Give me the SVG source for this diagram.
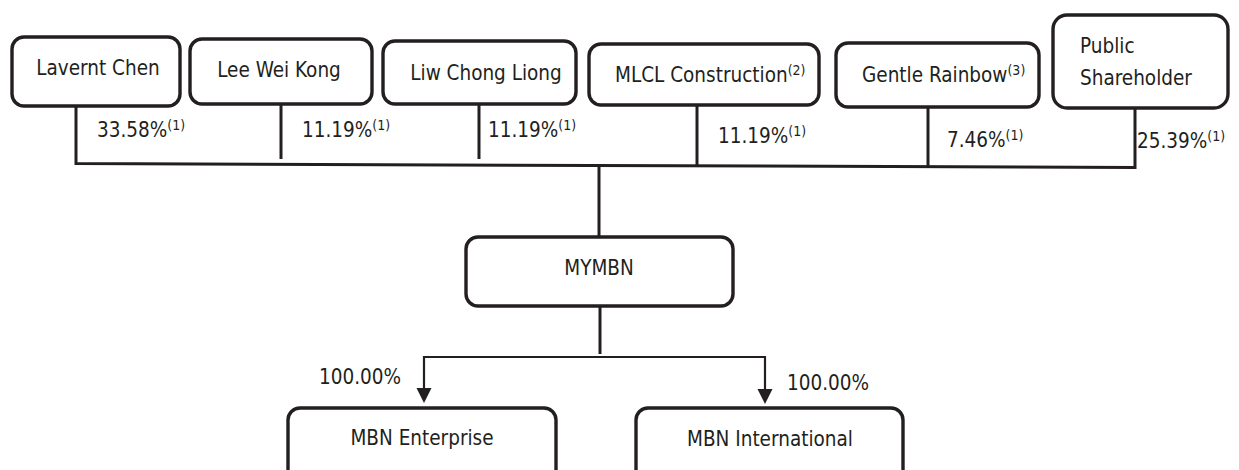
<svg xmlns="http://www.w3.org/2000/svg" width="1239" height="470" viewBox="0 0 1239 470">
<style>
.box{fill:#fff;stroke:#231f20;stroke-width:3.4}
.t{font-family:"DejaVu Sans Condensed","DejaVu Sans",sans-serif;font-size:20.5px;fill:#231f20}
.c{text-anchor:middle}
.sup{font-size:14px}
.ln{fill:none;stroke:#231f20;stroke-width:3}
.ln2{fill:none;stroke:#231f20;stroke-width:2.2}
</style>
<g id="connectors">
<path class="ln" d="M76,106 V163.5 L1135,167.5 V108"/>
<path class="ln" d="M281,104 V159"/>
<path class="ln" d="M479,104 V159"/>
<path class="ln" d="M697,105 V165.5"/>
<path class="ln" d="M928,107 V167"/>
<path class="ln" d="M599,166 V237"/>
<path class="ln" d="M600,306 V354"/>
<path class="ln2" d="M424,388 V357 H765 V389"/>
<path d="M416.5,388 L431.5,388 L424,403 z" fill="#231f20"/>
<path d="M757.5,389 L772.5,389 L765,404 z" fill="#231f20"/>
<text class="t" x="97" y="137">33.58%<tspan class="sup" dy="-7">(1)</tspan></text>
<text class="t" x="302" y="137">11.19%<tspan class="sup" dy="-7">(1)</tspan></text>
<text class="t" x="488" y="137">11.19%<tspan class="sup" dy="-7">(1)</tspan></text>
<text class="t" x="718" y="143">11.19%<tspan class="sup" dy="-7">(1)</tspan></text>
<text class="t" x="947" y="147">7.46%<tspan class="sup" dy="-7">(1)</tspan></text>
<text class="t" x="1137" y="148">25.39%<tspan class="sup" dy="-7">(1)</tspan></text>
<text class="t" x="319" y="384">100.00%</text>
<text class="t" x="787" y="390">100.00%</text>
</g>
<g id="lavernt-chen">
<rect class="box" x="12" y="37" width="168" height="69" rx="12"/>
<text class="t c" x="98" y="75">Lavernt Chen</text>
</g>
<g id="lee-wei-kong">
<rect class="box" x="190" y="39" width="182" height="65" rx="12"/>
<text class="t c" x="279" y="77">Lee Wei Kong</text>
</g>
<g id="liw-chong-liong">
<rect class="box" x="383" y="41" width="193" height="63" rx="12"/>
<text class="t c" x="486" y="80">Liw Chong Liong</text>
</g>
<g id="mlcl-construction">
<rect class="box" x="589" y="44" width="230" height="61" rx="12"/>
<text class="t" x="615" y="82">MLCL Construction<tspan class="sup" dy="-7">(2)</tspan></text>
</g>
<g id="gentle-rainbow">
<rect class="box" x="836" y="43" width="203" height="64" rx="12"/>
<text class="t" x="862" y="82">Gentle Rainbow<tspan class="sup" dy="-7">(3)</tspan></text>
</g>
<g id="public-shareholder">
<rect class="box" x="1053" y="15" width="175" height="93" rx="14"/>
<text class="t" x="1080" y="53">Public</text>
<text class="t" x="1080" y="85">Shareholder</text>
</g>
<g id="mymbn">
<rect class="box" x="466" y="237" width="267" height="69" rx="12"/>
<text class="t c" x="599" y="275">MYMBN</text>
</g>
<g id="mbn-enterprise">
<rect class="box" x="288" y="408" width="268" height="80" rx="12"/>
<text class="t c" x="422" y="445">MBN Enterprise</text>
</g>
<g id="mbn-international">
<rect class="box" x="636" y="408" width="267" height="80" rx="12"/>
<text class="t c" x="770" y="446">MBN International</text>
</g>
</svg>
